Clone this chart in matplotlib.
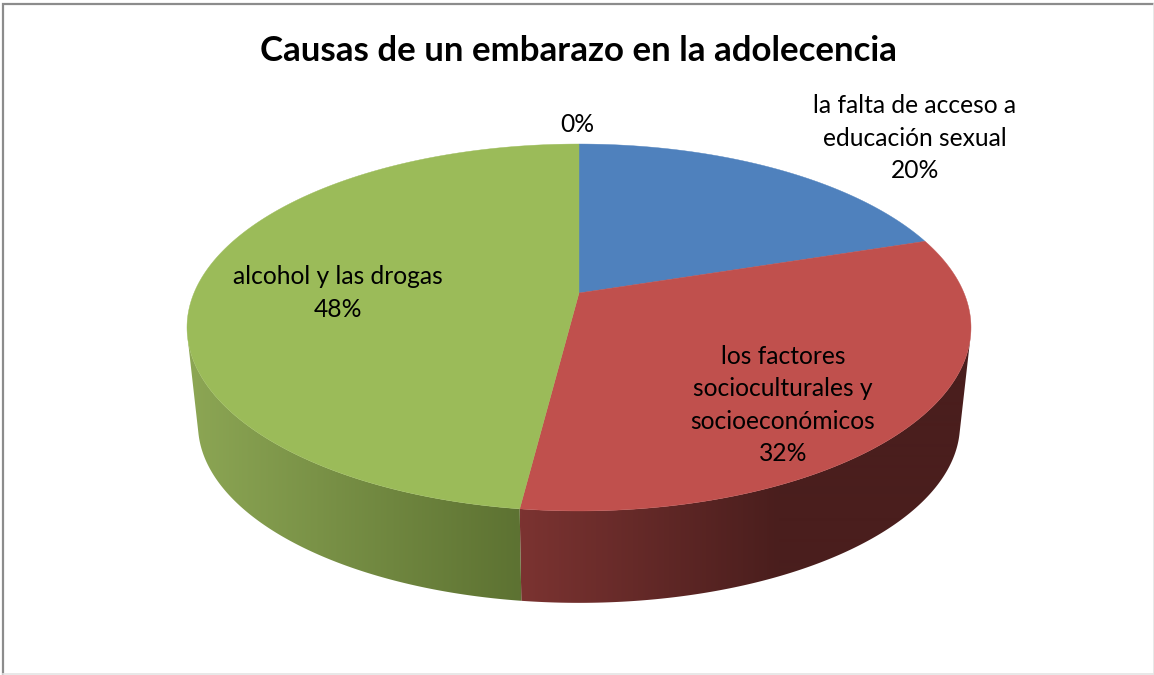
import numpy as np
import matplotlib.pyplot as plt
from matplotlib.patches import Polygon
from matplotlib.colors import LinearSegmentedColormap

# Datos del grafico
titulo = 'Causas de un embarazo en la adolecencia'
categorias = ['la falta de acceso a\neducación sexual',
              'los factores\nsocioculturales y\nsocioeconómicos',
              'alcohol y las drogas',
              '']
valores = [20, 32, 48, 0]
colores = ['#4F81BD', '#C0504D', '#9BBB59', '#8064A2']
pos_etiquetas = [(915, 138), (783, 405), (338, 293), (577, 125)]

W, H = 1154, 675
CX, CY = 579, 293      # centro del pastel en la imagen
ESC = 0.972            # la base se ve un poco mas chica
CY_BASE = 391


def proyectar(ang):
    # circulo unidad -> elipse en perspectiva (ang en grados, horario desde arriba)
    u = np.sin(np.radians(ang))
    v = np.cos(np.radians(ang))
    d = 1 + 0.188 * v
    return CX + 385 * u / d, (-121.9 * v + CY) / d


def base(x, y):
    return CX + ESC * (x - CX), CY_BASE + ESC * (y - CY)


def pared(ax, ang, c_ini, c_fin, x_ini, x_fin):
    # lado del pastel con degradado horizontal
    x, y = proyectar(ang)
    xb, yb = base(x, y)
    pts = np.vstack([np.column_stack([x, y]), np.column_stack([xb, yb])[::-1]])
    cmap = LinearSegmentedColormap.from_list('g', [c_ini, c_fin])
    grad = np.clip((np.linspace(0, W, W) - x_ini) / (x_fin - x_ini), 0, 1)[None, :]
    im = ax.imshow(grad, cmap=cmap, vmin=0, vmax=1, extent=(0, W, H, 0),
                   aspect='auto', zorder=2, interpolation='bilinear')
    im.set_clip_path(Polygon(pts, closed=True, transform=ax.transData))


fig = plt.figure(figsize=(W / 100, H / 100), dpi=100)
ax = fig.add_axes([0, 0, 1, 1])
ax.set_xlim(0, W)
ax.set_ylim(H, 0)
ax.axis('off')

# marco
ax.plot([2.5, 2.5, W], [H, 4, 4], color='#8C8C8C', lw=1.6, zorder=1, solid_joinstyle='miter')
ax.plot([W - 0.5, W - 0.5], [4, H], color='#E4E4E4', lw=1.2, zorder=1)
ax.plot([3, W], [H - 0.7, H - 0.7], color='#E4E4E4', lw=1.2, zorder=1)

limites = np.cumsum([0] + valores) * 3.6

# punto donde la pared toca la silueta
VY = (CY_BASE - ESC * CY) / (1 - ESC)
a_test = np.linspace(0, 360, 1441)
xt, yt = proyectar(a_test)
pend = (xt - CX) / (VY - yt)
a_der = a_test[np.argmax(pend)]
a_izq = a_test[np.argmin(pend)]

pared(ax, np.linspace(a_der, limites[2], 200), '#4A1E1D', '#7B3331', 780, 522)
pared(ax, np.linspace(limites[2], a_izq, 300), '#5D7232', '#8CA654', 520, 190)

# cara superior
for i in range(len(valores)):
    if valores[i] == 0:
        continue
    a = np.linspace(limites[i], limites[i + 1], 200)
    x, y = proyectar(a)
    pts = np.vstack([[CX, CY], np.column_stack([x, y])])
    ax.add_patch(Polygon(pts, closed=True, fc=colores[i], ec=colores[i], lw=0.3, zorder=3))

# textos
for cat, val, pos in zip(categorias, valores, pos_etiquetas):
    txt = f'{cat}\n{val}%' if cat else f'{val}%'
    ax.text(pos[0], pos[1], txt, ha='center', va='center', fontsize=17.7,
            family='Lato', color='black', linespacing=1.5, zorder=5)

ax.text(578, 51, titulo, ha='center', va='center', fontsize=25.1,
        family='Lato', fontweight='bold', color='black', zorder=5)

fig.savefig('out.png', dpi=100)
